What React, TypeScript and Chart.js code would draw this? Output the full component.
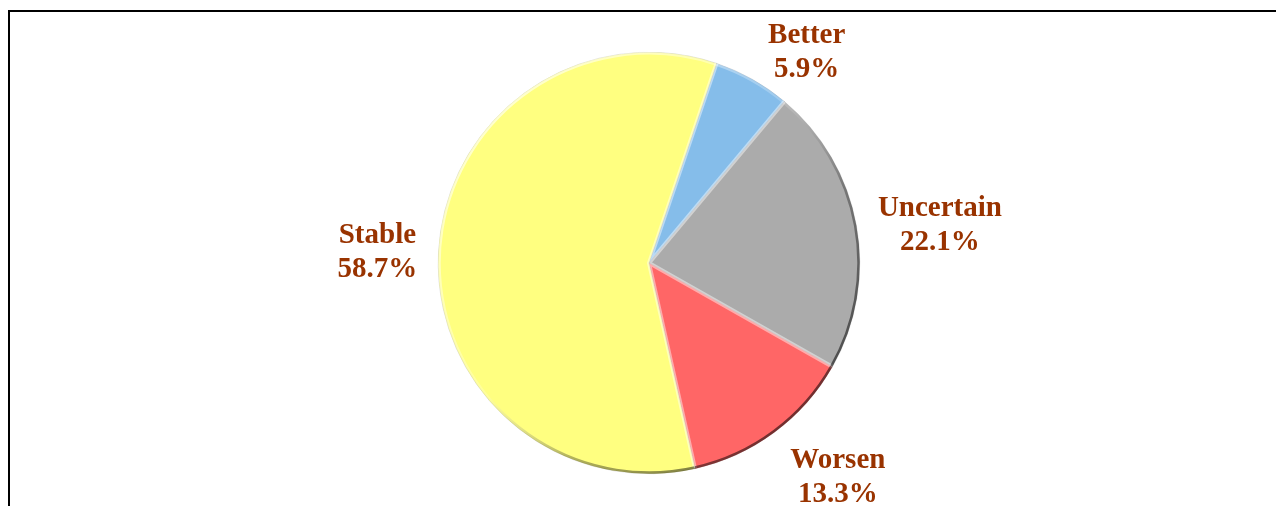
import React, { useEffect, useRef } from "react";
import { Chart, registerables } from "chart.js";

Chart.register(...registerables);

const categories = ["Better", "Uncertain", "Worsen", "Stable"];
const shares = [5.9, 22.1, 13.3, 58.7];
const sliceColors = ["#85BDEA", "#ABABAB", "#FF6666", "#FFFF80"];

const labelPlugin = {
  id: "outsideLabels",
  afterDatasetsDraw(chart: any, _args: any, opts: any) {
    const ctx = chart.ctx;
    const meta = chart.getDatasetMeta(0);
    const labels = chart.data.labels as string[];
    const data = chart.data.datasets[0].data as number[];
    ctx.save();
    ctx.font = `bold ${opts.size}px "Liberation Serif", "Times New Roman", serif`;
    ctx.fillStyle = opts.color;
    ctx.textAlign = "center";
    ctx.textBaseline = "alphabetic";
    meta.data.forEach((arc: any, i: number) => {
      const { x, y, startAngle, endAngle, outerRadius } = arc.getProps(
        ["x", "y", "startAngle", "endAngle", "outerRadius"],
        true
      );
      const mid = (startAngle + endAngle) / 2;
      const dx = Math.cos(mid);
      const dy = Math.sin(mid);
      const l1 = labels[i];
      const l2 = data[i].toFixed(1) + "%";
      const w = Math.max(ctx.measureText(l1).width, ctx.measureText(l2).width);
      const h = opts.lineHeight + opts.size * 0.66;
      const dist = outerRadius + opts.pad + Math.abs(dx) * w / 2 + Math.abs(dy) * h / 2;
      const nudge = (opts.nudge && opts.nudge[l1]) || [0, 0];
      const cx = x + dx * dist + nudge[0];
      const cy = y + dy * dist + nudge[1];
      const b1 = cy - (opts.lineHeight - opts.size * 0.66) / 2;
      ctx.fillText(l1, cx, b1);
      ctx.fillText(l2, cx, b1 + opts.lineHeight);
    });
    ctx.restore();
  },
};

const bevelPlugin = {
  id: "bevel",
  afterDatasetsDraw(chart: any) {
    const ctx = chart.ctx;
    const meta = chart.getDatasetMeta(0);
    meta.data.forEach((arc: any) => {
      const { x, y, startAngle, endAngle, outerRadius } = arc.getProps(
        ["x", "y", "startAngle", "endAngle", "outerRadius"],
        true
      );
      ctx.save();
      ctx.beginPath();
      ctx.moveTo(x, y);
      ctx.arc(x, y, outerRadius, startAngle, endAngle);
      ctx.closePath();
      ctx.clip();
      // radial edges: soft highlight
      ctx.strokeStyle = "rgba(255,255,255,0.45)";
      ctx.lineWidth = 4;
      ctx.beginPath();
      ctx.moveTo(x + Math.cos(startAngle) * outerRadius, y + Math.sin(startAngle) * outerRadius);
      ctx.lineTo(x, y);
      ctx.lineTo(x + Math.cos(endAngle) * outerRadius, y + Math.sin(endAngle) * outerRadius);
      ctx.stroke();
      // outer rim: light at top-left, dark at right/bottom-right
      const g = ctx.createLinearGradient(
        x - outerRadius * 0.7,
        y - outerRadius * 0.7,
        x + outerRadius * 0.7,
        y + outerRadius * 0.7
      );
      g.addColorStop(0, "rgba(255,255,255,0.6)");
      g.addColorStop(0.45, "rgba(255,255,255,0.2)");
      g.addColorStop(0.7, "rgba(0,0,0,0.3)");
      g.addColorStop(1, "rgba(0,0,0,0.55)");
      ctx.strokeStyle = g;
      ctx.lineWidth = 5;
      ctx.beginPath();
      ctx.arc(x, y, outerRadius, startAngle, endAngle);
      ctx.stroke();
      ctx.restore();
    });
  },
};

export default function App() {
  const ref = useRef<HTMLCanvasElement>(null);
  useEffect(() => {
    if (!ref.current) return;
    const chart = new Chart(ref.current, {
      type: "pie",
      data: {
        labels: categories,
        datasets: [
          {
            data: shares,
            backgroundColor: sliceColors,
            borderColor: "rgba(120,120,120,0.45)",
            borderWidth: 0.5,
          },
        ],
      },
      options: {
        responsive: false,
        animation: false,
        devicePixelRatio: 1,
        rotation: 18.7,
        layout: { padding: { left: 12, right: 0, top: 40, bottom: 32 } },
        plugins: {
          legend: { display: false },
          tooltip: { enabled: false },
          outsideLabels: {
            size: 29,
            lineHeight: 34,
            pad: 8,
            color: "#993300",
            nudge: {
              Better: [30, 15],
              Uncertain: [11, 11],
              Worsen: [29, -3],
              Stable: [-12, 1],
            },
          },
        } as any,
      },
      plugins: [bevelPlugin, labelPlugin],
    });
    return () => chart.destroy();
  }, []);
  return (
    <div
      style={{
        position: "fixed",
        left: 8,
        top: 10,
        right: 0,
        bottom: 0,
        borderTop: "2px solid #000",
        borderLeft: "2px solid #000",
        background: "#fff",
      }}
    >
      <canvas ref={ref} width={1266} height={494} style={{ display: "block" }} />
    </div>
  );
}
